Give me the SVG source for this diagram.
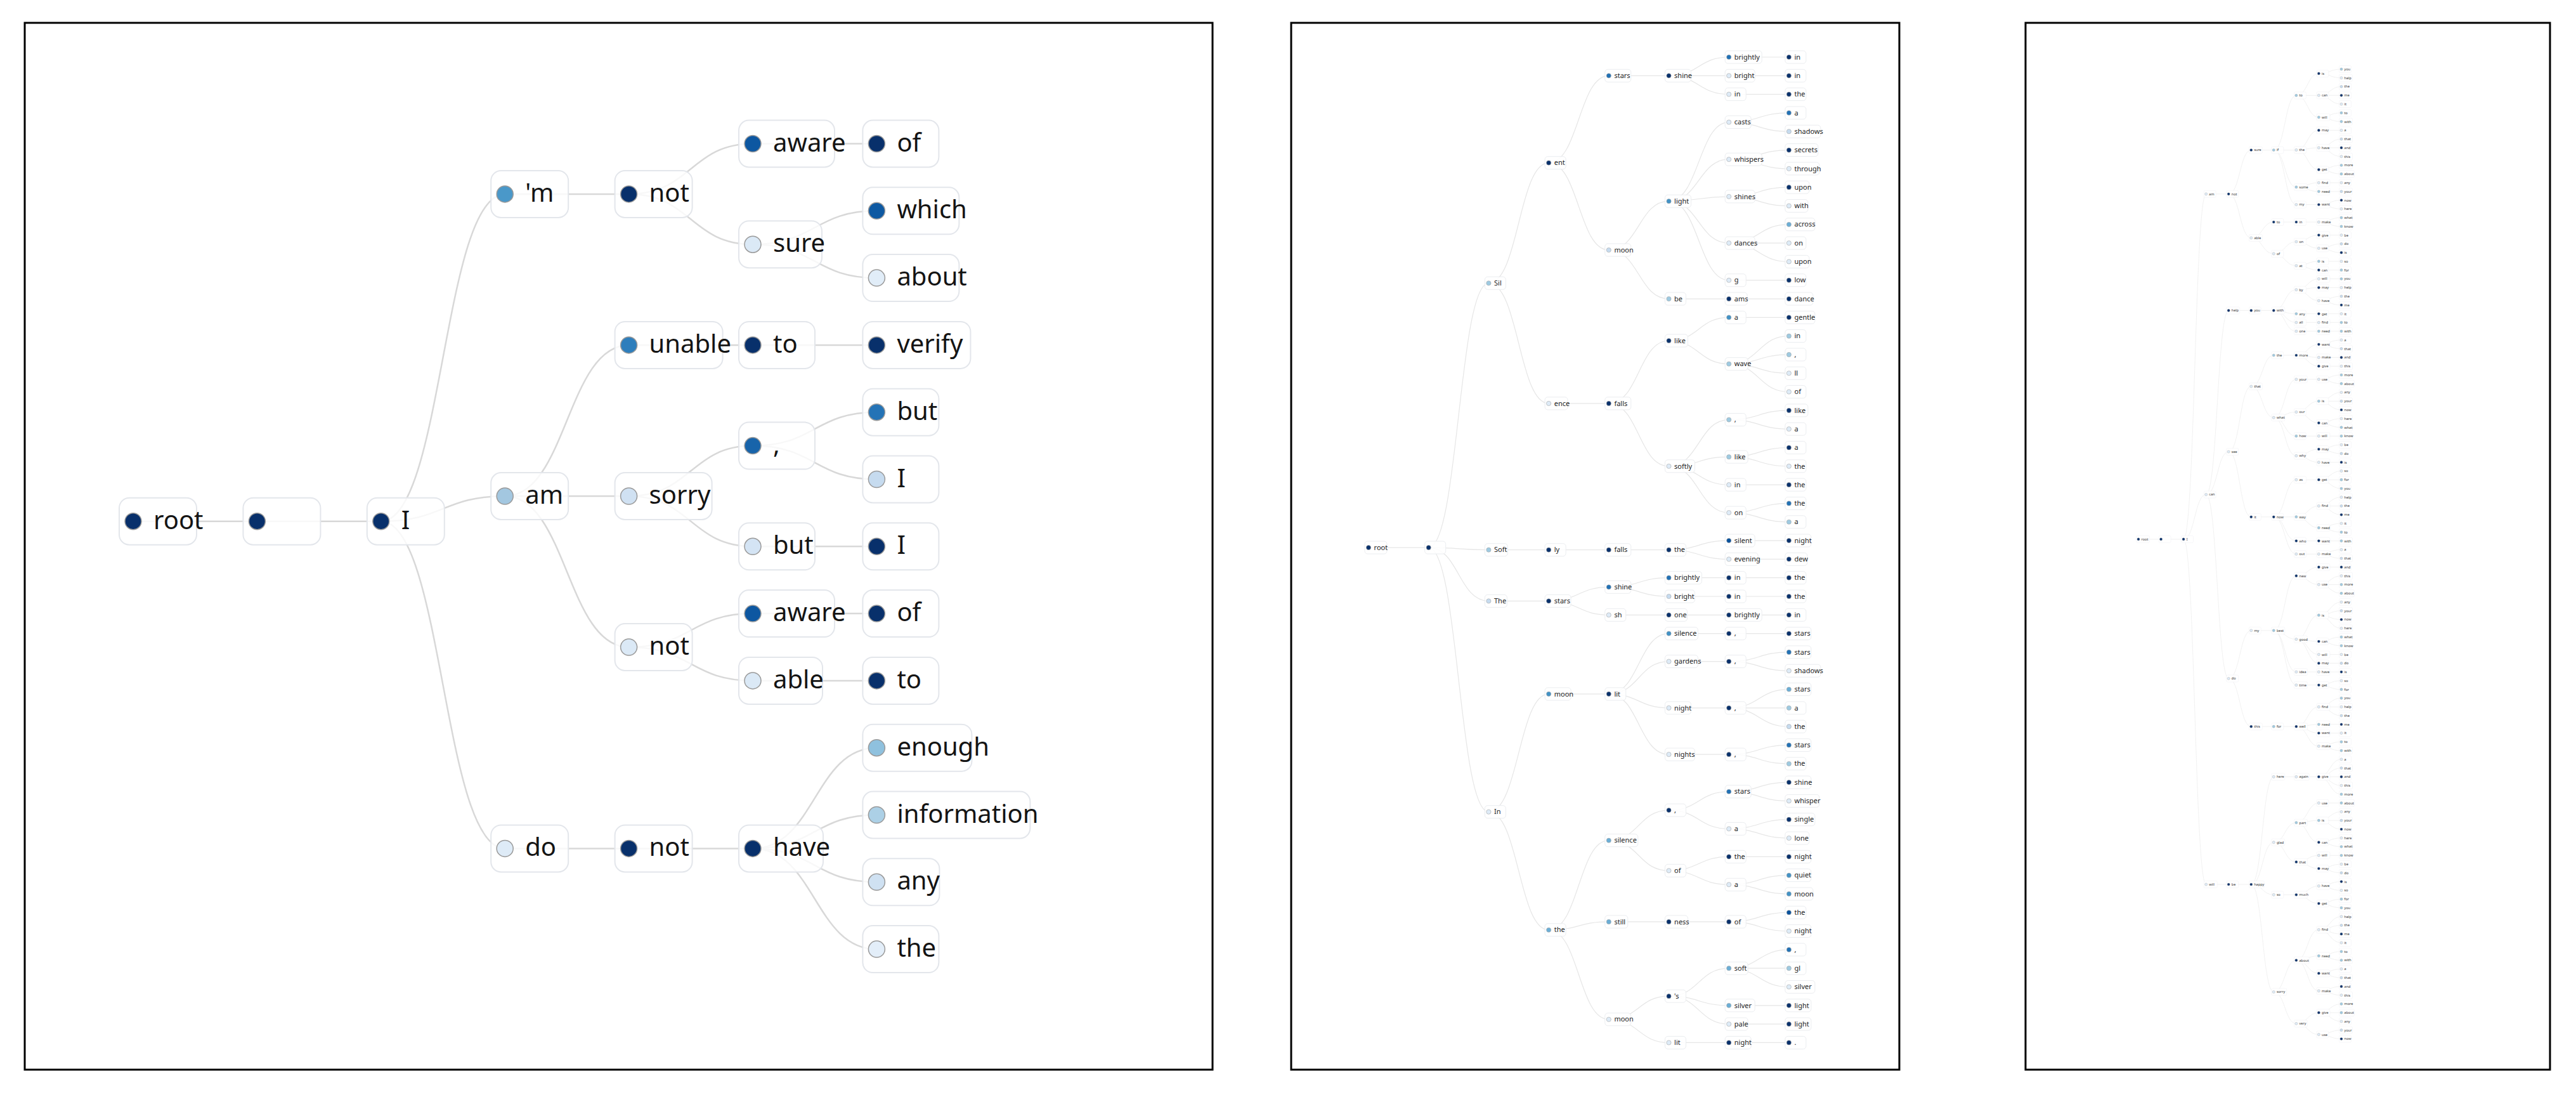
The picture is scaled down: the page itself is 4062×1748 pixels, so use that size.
<svg xmlns="http://www.w3.org/2000/svg" width="4062" height="1748" viewBox="0 0 4062 1748">
<style>
.fr{fill:none;stroke:#000;stroke-width:3}
.c1 path{fill:none;stroke:#d8d8d8;stroke-width:2.5}
.c2 path{fill:none;stroke:#e6e6e6;stroke-width:1.2}
.c3 path{fill:none;stroke:#ebebeb;stroke-width:.7}
.n1 rect{x:-22px;y:-37px;height:74px;rx:16px;ry:16px;fill:#fff;fill-opacity:.82;stroke:#e3e6eb;stroke-width:2}
.n1 circle{r:13px;stroke:#9a9a9a;stroke-width:1.5}
.n1 text{font-size:40px;font-family:"Noto Sans","Liberation Sans",sans-serif;fill:#141414;transform:translate(32px,12px)}
.n2 rect{x:-6px;y:-10px;height:20px;rx:4.5px;ry:4.5px;fill:#fff;fill-opacity:.85;stroke:#ebedf0;stroke-width:1}
.n2 circle{r:3.6px;stroke:#a8a8a8;stroke-width:.6}
.n2 text{font-size:11px;font-family:"Noto Sans","Liberation Sans",sans-serif;fill:#222;transform:translate(8.6px,3.7px)}
.n3 rect{x:-3.5px;y:-5.5px;height:11px;rx:2px;ry:2px;fill:#fff;fill-opacity:.85;stroke:#eeeff2;stroke-width:.5}
.n3 circle{r:2.1px;stroke:#aaa;stroke-width:.4}
.n3 text{font-size:5.5px;font-family:"Noto Sans","Liberation Sans",sans-serif;fill:#333;transform:translate(4.6px,1.9px)}
.k0{fill:#08306b}.k1{fill:#08519c}.k2{fill:#2171b5}.k3{fill:#4292c6}.k4{fill:#6baed6}.k5{fill:#9ecae1}.k6{fill:#c6dbef}.k7{fill:#deebf7}
</style>
<rect width="4062" height="1748" fill="#fff"/>
<rect class="fr" x="39" y="36" width="1873" height="1650"/>
<rect class="fr" x="2036" y="36" width="959" height="1650"/>
<rect class="fr" x="3194" y="36" width="827" height="1650"/>

<g id="connectors">
<g id="p1-links" class="c1">
<path d="M210 821.7h195.4"/><path d="M405.4 821.7h195.4"/>
<path d="M600.8 821.7c97.7 0 97.7 -515.8 195.4 -515.8"/><path d="M600.8 821.7c97.7 0 97.7 -39.7 195.4 -39.7"/><path d="M600.8 821.7c97.7 0 97.7 515.7 195.4 515.7"/>
<path d="M796.2 305.9h195.4"/><path d="M796.2 782c97.7 0 97.7 -238.1 195.4 -238.1"/><path d="M796.2 782h195.4"/><path d="M796.2 782c97.7 0 97.7 238 195.4 238"/><path d="M796.2 1337.4h195.4"/>
<path d="M991.6 305.9c97.7 0 97.7 -79.4 195.4 -79.4"/><path d="M991.6 305.9c97.7 0 97.7 79.3 195.4 79.3"/><path d="M991.6 543.9h195.4"/><path d="M991.6 782c97.7 0 97.7 -79.4 195.4 -79.4"/><path d="M991.6 782c97.7 0 97.7 79.3 195.4 79.3"/><path d="M991.6 1020c97.7 0 97.7 -52.9 195.4 -52.9"/><path d="M991.6 1020c97.7 0 97.7 52.9 195.4 52.9"/><path d="M991.6 1337.4h195.4"/>
<path d="M1187 226.5h195.4"/><path d="M1187 385.2c97.7 0 97.7 -52.9 195.4 -52.9"/><path d="M1187 385.2c97.7 0 97.7 52.9 195.4 52.9"/><path d="M1187 543.9h195.4"/><path d="M1187 702.6c97.7 0 97.7 -52.9 195.4 -52.9"/><path d="M1187 702.6c97.7 0 97.7 52.9 195.4 52.9"/><path d="M1187 861.3h195.4"/><path d="M1187 967.1h195.4"/><path d="M1187 1072.9h195.4"/>
<path d="M1187 1337.4c97.7 0 97.7 -158.7 195.4 -158.7"/><path d="M1187 1337.4c97.7 0 97.7 -52.9 195.4 -52.9"/><path d="M1187 1337.4c97.7 0 97.7 52.9 195.4 52.9"/><path d="M1187 1337.4c97.7 0 97.7 158.7 195.4 158.7"/>
</g>
<g id="p2-links" class="c2">
<path d="M2158 863.05h94.7"/>
<path d="M2252.7 863.05c47.35 0 47.35 -416.76 94.7 -416.76"/><path d="M2252.7 863.05c47.35 0 47.35 3.67 94.7 3.67"/><path d="M2252.7 863.05c47.35 0 47.35 84.27 94.7 84.27"/><path d="M2252.7 863.05c47.35 0 47.35 416.64 94.7 416.64"/>
<path d="M2347.4 446.29c47.35 0 47.35 -189.59 94.7 -189.59"/><path d="M2347.4 446.29c47.35 0 47.35 189.61 94.7 189.61"/>
<path d="M2442.1 256.7c47.35 0 47.35 -137.39 94.7 -137.39"/><path d="M2442.1 256.7c47.35 0 47.35 137.39 94.7 137.39"/>
<path d="M2536.8 119.31h94.7"/>
<path d="M2631.5 119.31c47.35 0 47.35 -29.31 94.7 -29.31"/><path d="M2631.5 119.31h94.7"/><path d="M2631.5 119.31c47.35 0 47.35 29.31 94.7 29.31"/>
<path d="M2726.2 90h94.7"/><path d="M2726.2 119.31h94.7"/><path d="M2726.2 148.62h94.7"/>
<path d="M2536.8 394.09c47.35 0 47.35 -76.94 94.7 -76.94"/><path d="M2536.8 394.09c47.35 0 47.35 76.94 94.7 76.94"/>
<path d="M2631.5 317.15c47.35 0 47.35 -124.56 94.7 -124.56"/><path d="M2631.5 317.15c47.35 0 47.35 -65.94 94.7 -65.94"/><path d="M2631.5 317.15c47.35 0 47.35 -7.32 94.7 -7.32"/><path d="M2631.5 317.15c47.35 0 47.35 65.95 94.7 65.95"/><path d="M2631.5 317.15c47.35 0 47.35 124.57 94.7 124.57"/>
<path d="M2631.5 471.03h94.7"/>
<path d="M2726.2 192.59c47.35 0 47.35 -14.66 94.7 -14.66"/><path d="M2726.2 192.59c47.35 0 47.35 14.65 94.7 14.65"/>
<path d="M2726.2 251.21c47.35 0 47.35 -14.66 94.7 -14.66"/><path d="M2726.2 251.21c47.35 0 47.35 14.65 94.7 14.65"/>
<path d="M2726.2 309.83c47.35 0 47.35 -14.66 94.7 -14.66"/><path d="M2726.2 309.83c47.35 0 47.35 14.65 94.7 14.65"/>
<path d="M2726.2 383.1c47.35 0 47.35 -29.31 94.7 -29.31"/><path d="M2726.2 383.1h94.7"/><path d="M2726.2 383.1c47.35 0 47.35 29.31 94.7 29.31"/>
<path d="M2726.2 441.72h94.7"/><path d="M2726.2 471.03h94.7"/>
<path d="M2442.1 635.9h94.7"/>
<path d="M2536.8 635.9c47.35 0 47.35 -98.92 94.7 -98.92"/><path d="M2536.8 635.9c47.35 0 47.35 98.92 94.7 98.92"/>
<path d="M2631.5 536.98c47.35 0 47.35 -36.64 94.7 -36.64"/><path d="M2631.5 536.98c47.35 0 47.35 36.64 94.7 36.64"/>
<path d="M2726.2 500.34h94.7"/>
<path d="M2726.2 573.62c47.35 0 47.35 -43.97 94.7 -43.97"/><path d="M2726.2 573.62c47.35 0 47.35 -14.66 94.7 -14.66"/><path d="M2726.2 573.62c47.35 0 47.35 14.65 94.7 14.65"/><path d="M2726.2 573.62c47.35 0 47.35 43.96 94.7 43.96"/>
<path d="M2631.5 734.82c47.35 0 47.35 -73.27 94.7 -73.27"/><path d="M2631.5 734.82c47.35 0 47.35 -14.65 94.7 -14.65"/><path d="M2631.5 734.82c47.35 0 47.35 29.31 94.7 29.31"/><path d="M2631.5 734.82c47.35 0 47.35 73.28 94.7 73.28"/>
<path d="M2726.2 661.55c47.35 0 47.35 -14.66 94.7 -14.66"/><path d="M2726.2 661.55c47.35 0 47.35 14.65 94.7 14.65"/>
<path d="M2726.2 720.17c47.35 0 47.35 -14.66 94.7 -14.66"/><path d="M2726.2 720.17c47.35 0 47.35 14.65 94.7 14.65"/>
<path d="M2726.2 764.13h94.7"/>
<path d="M2726.2 808.1c47.35 0 47.35 -14.66 94.7 -14.66"/><path d="M2726.2 808.1c47.35 0 47.35 14.65 94.7 14.65"/>
<path d="M2347.4 866.72h94.7"/><path d="M2442.1 866.72h94.7"/><path d="M2536.8 866.72h94.7"/>
<path d="M2631.5 866.72c47.35 0 47.35 -14.66 94.7 -14.66"/><path d="M2631.5 866.72c47.35 0 47.35 14.65 94.7 14.65"/>
<path d="M2726.2 852.06h94.7"/><path d="M2726.2 881.37h94.7"/>
<path d="M2347.4 947.32h94.7"/>
<path d="M2442.1 947.32c47.35 0 47.35 -21.98 94.7 -21.98"/><path d="M2442.1 947.32c47.35 0 47.35 21.98 94.7 21.98"/>
<path d="M2536.8 925.34c47.35 0 47.35 -14.66 94.7 -14.66"/><path d="M2536.8 925.34c47.35 0 47.35 14.65 94.7 14.65"/>
<path d="M2536.8 969.3h94.7"/>
<path d="M2631.5 910.68h94.7"/><path d="M2631.5 939.99h94.7"/><path d="M2631.5 969.3h94.7"/>
<path d="M2726.2 910.68h94.7"/><path d="M2726.2 939.99h94.7"/><path d="M2726.2 969.3h94.7"/>
<path d="M2347.4 1279.69c47.35 0 47.35 -185.82 94.7 -185.82"/><path d="M2347.4 1279.69c47.35 0 47.35 186.05 94.7 186.05"/>
<path d="M2442.1 1093.87h94.7"/>
<path d="M2536.8 1093.87c47.35 0 47.35 -95.26 94.7 -95.26"/><path d="M2536.8 1093.87c47.35 0 47.35 -51.29 94.7 -51.29"/><path d="M2536.8 1093.87c47.35 0 47.35 21.98 94.7 21.98"/><path d="M2536.8 1093.87c47.35 0 47.35 95.26 94.7 95.26"/>
<path d="M2631.5 998.61h94.7"/><path d="M2631.5 1042.58h94.7"/><path d="M2631.5 1115.85h94.7"/><path d="M2631.5 1189.13h94.7"/>
<path d="M2726.2 998.61h94.7"/>
<path d="M2726.2 1042.58c47.35 0 47.35 -14.66 94.7 -14.66"/><path d="M2726.2 1042.58c47.35 0 47.35 14.65 94.7 14.65"/>
<path d="M2726.2 1115.85c47.35 0 47.35 -29.31 94.7 -29.31"/><path d="M2726.2 1115.85h94.7"/><path d="M2726.2 1115.85c47.35 0 47.35 29.31 94.7 29.31"/>
<path d="M2726.2 1189.13c47.35 0 47.35 -14.66 94.7 -14.66"/><path d="M2726.2 1189.13c47.35 0 47.35 14.65 94.7 14.65"/>
<path d="M2442.1 1465.74c47.35 0 47.35 -141.06 94.7 -141.06"/><path d="M2442.1 1465.74c47.35 0 47.35 -12.82 94.7 -12.82"/><path d="M2442.1 1465.74c47.35 0 47.35 141.05 94.7 141.05"/>
<path d="M2536.8 1324.68c47.35 0 47.35 -47.62 94.7 -47.62"/><path d="M2536.8 1324.68c47.35 0 47.35 47.63 94.7 47.63"/>
<path d="M2631.5 1277.06c47.35 0 47.35 -29.31 94.7 -29.31"/><path d="M2631.5 1277.06c47.35 0 47.35 29.31 94.7 29.31"/>
<path d="M2726.2 1247.75c47.35 0 47.35 -14.66 94.7 -14.66"/><path d="M2726.2 1247.75c47.35 0 47.35 14.65 94.7 14.65"/>
<path d="M2726.2 1306.37c47.35 0 47.35 -14.66 94.7 -14.66"/><path d="M2726.2 1306.37c47.35 0 47.35 14.65 94.7 14.65"/>
<path d="M2631.5 1372.31c47.35 0 47.35 -21.98 94.7 -21.98"/><path d="M2631.5 1372.31c47.35 0 47.35 21.99 94.7 21.99"/>
<path d="M2726.2 1350.33h94.7"/>
<path d="M2726.2 1394.3c47.35 0 47.35 -14.66 94.7 -14.66"/><path d="M2726.2 1394.3c47.35 0 47.35 14.65 94.7 14.65"/>
<path d="M2536.8 1452.92h94.7"/><path d="M2631.5 1452.92h94.7"/>
<path d="M2726.2 1452.92c47.35 0 47.35 -14.66 94.7 -14.66"/><path d="M2726.2 1452.92c47.35 0 47.35 14.65 94.7 14.65"/>
<path d="M2536.8 1606.79c47.35 0 47.35 -36.63 94.7 -36.63"/><path d="M2536.8 1606.79c47.35 0 47.35 36.64 94.7 36.64"/>
<path d="M2631.5 1570.16c47.35 0 47.35 -43.97 94.7 -43.97"/><path d="M2631.5 1570.16c47.35 0 47.35 14.65 94.7 14.65"/><path d="M2631.5 1570.16c47.35 0 47.35 43.96 94.7 43.96"/>
<path d="M2726.2 1526.19c47.35 0 47.35 -29.31 94.7 -29.31"/><path d="M2726.2 1526.19h94.7"/><path d="M2726.2 1526.19c47.35 0 47.35 29.31 94.7 29.31"/>
<path d="M2726.2 1584.81h94.7"/><path d="M2726.2 1614.12h94.7"/>
<path d="M2631.5 1643.43h94.7"/><path d="M2726.2 1643.43h94.7"/>
</g>
<g id="p3-links" class="c3">
<path d="M3372 849.9h71.1"/>
<path d="M3443.1 849.9c17.8 0 17.8 -544.1 35.55 -544.1M3443.1 849.9c17.8 0 17.8 -70.4 35.55 -70.4M3443.1 849.9c17.8 0 17.8 544.1 35.55 544.1"/>
<path d="M3478.7 305.8h35.55M3478.7 1394h35.55"/>
<path d="M3478.7 779.5c17.8 0 17.8 -290.1 35.55 -290.1M3478.7 779.5c17.8 0 17.8 -67.5 35.55 -67.5M3478.7 779.5c17.8 0 17.8 290 35.55 290"/>
<path d="M3514.2 305.8c17.8 0 17.8 -69.3 35.55 -69.3M3514.2 305.8c17.8 0 17.8 69.2 35.55 69.2"/>
<path d="M3514.2 489.4h35.55M3514.2 1394h35.55"/>
<path d="M3514.2 712c17.8 0 17.8 -102.9 35.55 -102.9M3514.2 712c17.8 0 17.8 102.8 35.55 102.8"/>
<path d="M3514.2 1069.5c17.8 0 17.8 -75.7 35.55 -75.7M3514.2 1069.5c17.8 0 17.8 75.7 35.55 75.7"/>
<path d="M3549.8 236.5h35.55M3549.8 489.4h35.55M3549.8 814.8h35.55M3549.8 993.8h35.55M3549.8 1145.2h35.55"/>
<path d="M3549.8 375c17.8 0 17.8 -25 35.55 -25M3549.8 375c17.8 0 17.8 24.9 35.55 24.9"/>
<path d="M3549.8 609.1c17.8 0 17.8 -49.1 35.55 -49.1M3549.8 609.1c17.8 0 17.8 49.1 35.55 49.1"/>
<path d="M3549.8 1394c17.8 0 17.8 -169.6 35.55 -169.6M3549.8 1394c17.8 0 17.8 -66.3 35.55 -66.3M3549.8 1394c17.8 0 17.8 16.3 35.55 16.3M3549.8 1394c17.8 0 17.8 169.5 35.55 169.5"/>
<path d="M3585.3 236.5c17.8 0 17.8 -86.1 35.55 -86.1M3585.3 236.5h35.55M3585.3 236.5c17.8 0 17.8 58.4 35.55 58.4M3585.3 236.5c17.8 0 17.8 86 35.55 86"/>
<path d="M3585.3 350h35.55M3585.3 560h35.55M3585.3 1145.2h35.55M3585.3 1224.4h35.55M3585.3 1410.3h35.55"/>
<path d="M3585.3 399.9c17.8 0 17.8 -18.9 35.55 -18.9M3585.3 399.9c17.8 0 17.8 18.9 35.55 18.9"/>
<path d="M3585.3 489.4c17.8 0 17.8 -32.7 35.55 -32.7M3585.3 489.4c17.8 0 17.8 5.2 35.55 5.2M3585.3 489.4c17.8 0 17.8 18.9 35.55 18.9M3585.3 489.4c17.8 0 17.8 32.7 35.55 32.7"/>
<path d="M3585.3 658.2c17.8 0 17.8 -60.3 35.55 -60.3M3585.3 658.2c17.8 0 17.8 -8.7 35.55 -8.7M3585.3 658.2c17.8 0 17.8 29.1 35.55 29.1M3585.3 658.2c17.8 0 17.8 60.2 35.55 60.2"/>
<path d="M3585.3 814.8c17.8 0 17.8 -58.6 35.55 -58.6M3585.3 814.8h35.55M3585.3 814.8c17.8 0 17.8 37.8 35.55 37.8M3585.3 814.8c17.8 0 17.8 58.5 35.55 58.5"/>
<path d="M3585.3 993.8c17.8 0 17.8 -86.1 35.55 -86.1M3585.3 993.8c17.8 0 17.8 13.8 35.55 13.8M3585.3 993.8c17.8 0 17.8 65.3 35.55 65.3M3585.3 993.8c17.8 0 17.8 86 35.55 86"/>
<path d="M3585.3 1327.7c17.8 0 17.8 -31 35.55 -31M3585.3 1327.7c17.8 0 17.8 31 35.55 31"/>
<path d="M3585.3 1563.5c17.8 0 17.8 -49.9 35.55 -49.9M3585.3 1563.5c17.8 0 17.8 49.9 35.55 49.9"/>
<path d="M3620.9 150.4c17.8 0 17.8 -34.5 35.55 -34.5M3620.9 150.4h35.55M3620.9 150.4c17.8 0 17.8 34.4 35.55 34.4"/>
<path d="M3620.9 236.4c17.8 0 17.8 -31 35.55 -31M3620.9 236.4c17.8 0 17.8 -3.5 35.55 -3.5M3620.9 236.4c17.8 0 17.8 31 35.55 31"/>
<path d="M3620.9 294.9c17.8 0 17.8 -6.9 35.55 -6.9M3620.9 294.9c17.8 0 17.8 6.9 35.55 6.9"/>
<path d="M3620.9 322.5h35.55M3620.9 350h35.55M3620.9 494.6h35.55M3620.9 508.3h35.55M3620.9 522.1h35.55M3620.9 597.9h35.55M3620.9 687.3h35.55M3620.9 756.2h35.55M3620.9 852.6h35.55M3620.9 873.3h35.55M3620.9 1059.1h35.55M3620.9 1079.8h35.55M3620.9 1224.4h35.55"/>
<path d="M3620.9 381c17.8 0 17.8 -10.4 35.55 -10.4M3620.9 381c17.8 0 17.8 10.3 35.55 10.3"/>
<path d="M3620.9 418.8c17.8 0 17.8 -6.9 35.55 -6.9M3620.9 418.8c17.8 0 17.8 6.9 35.55 6.9"/>
<path d="M3620.9 456.7c17.8 0 17.8 -17.2 35.55 -17.2M3620.9 456.7c17.8 0 17.8 -3.4 35.55 -3.4M3620.9 456.7c17.8 0 17.8 17.2 35.55 17.2"/>
<path d="M3620.9 560c17.8 0 17.8 -17.2 35.55 -17.2M3620.9 560c17.8 0 17.8 3.4 35.55 3.4M3620.9 560c17.8 0 17.8 17.2 35.55 17.2"/>
<path d="M3620.9 649.5c17.8 0 17.8 -17.2 35.55 -17.2M3620.9 649.5c17.8 0 17.8 17.2 35.55 17.2"/>
<path d="M3620.9 718.4c17.8 0 17.8 -10.4 35.55 -10.4M3620.9 718.4c17.8 0 17.8 10.3 35.55 10.3"/>
<path d="M3620.9 814.7c17.8 0 17.8 -17.2 35.55 -17.2M3620.9 814.7c17.8 0 17.8 17.2 35.55 17.2"/>
<path d="M3620.9 907.7c17.8 0 17.8 -13.8 35.55 -13.8M3620.9 907.7c17.8 0 17.8 13.7 35.55 13.7"/>
<path d="M3620.9 1007.6c17.8 0 17.8 -37.9 35.55 -37.9M3620.9 1007.6c17.8 0 17.8 3.4 35.55 3.4M3620.9 1007.6c17.8 0 17.8 24 35.55 24M3620.9 1007.6c17.8 0 17.8 37.8 35.55 37.8"/>
<path d="M3620.9 1145.2c17.8 0 17.8 -31 35.55 -31M3620.9 1145.2c17.8 0 17.8 -3.4 35.55 -3.4M3620.9 1145.2c17.8 0 17.8 10.3 35.55 10.3M3620.9 1145.2c17.8 0 17.8 31 35.55 31"/>
<path d="M3620.9 1296.7c17.8 0 17.8 -31 35.55 -31M3620.9 1296.7c17.8 0 17.8 -3.5 35.55 -3.5M3620.9 1296.7c17.8 0 17.8 31 35.55 31"/>
<path d="M3620.9 1358.7c17.8 0 17.8 -10.4 35.55 -10.4M3620.9 1358.7c17.8 0 17.8 10.3 35.55 10.3"/>
<path d="M3620.9 1410.3c17.8 0 17.8 -13.8 35.55 -13.8M3620.9 1410.3c17.8 0 17.8 13.8 35.55 13.8"/>
<path d="M3620.9 1513.6c17.8 0 17.8 -48.2 35.55 -48.2M3620.9 1513.6c17.8 0 17.8 -6.9 35.55 -6.9M3620.9 1513.6c17.8 0 17.8 20.6 35.55 20.6M3620.9 1513.6c17.8 0 17.8 48.2 35.55 48.2"/>
<path d="M3620.9 1613.4c17.8 0 17.8 -17.2 35.55 -17.2M3620.9 1613.4c17.8 0 17.8 17.2 35.55 17.2"/>
<path d="M3656.4 115.9c17.8 0 17.8 -6.9 35.6 -6.9M3656.4 115.9c17.8 0 17.8 6.9 35.6 6.9M3656.4 150.3c17.8 0 17.8 -13.8 35.6 -13.8M3656.4 150.3h35.6M3656.4 150.3c17.8 0 17.8 13.8 35.6 13.8M3656.4 184.8c17.8 0 17.8 -6.9 35.6 -6.9M3656.4 184.8c17.8 0 17.8 6.8 35.6 6.8M3656.4 205.4h35.6M3656.4 232.9c17.8 0 17.8 -13.7 35.6 -13.7M3656.4 232.9h35.6M3656.4 232.9c17.8 0 17.8 13.8 35.6 13.8M3656.4 267.4c17.8 0 17.8 -6.9 35.6 -6.9M3656.4 267.4c17.8 0 17.8 6.8 35.6 6.8M3656.4 288h35.6M3656.4 301.8h35.6M3656.4 322.5c17.8 0 17.8 -6.9 35.6 -6.9M3656.4 322.5c17.8 0 17.8 6.8 35.6 6.8M3656.4 350c17.8 0 17.8 -6.9 35.6 -6.9M3656.4 350c17.8 0 17.8 6.9 35.6 6.9M3656.4 370.6h35.6M3656.4 391.3c17.8 0 17.8 -6.9 35.6 -6.9M3656.4 391.3c17.8 0 17.8 6.9 35.6 6.9M3656.4 411.9h35.6M3656.4 425.7h35.6M3656.4 439.5h35.6M3656.4 453.3h35.6M3656.4 473.9c17.8 0 17.8 -6.9 35.6 -6.9M3656.4 473.9c17.8 0 17.8 6.9 35.6 6.9M3656.4 494.6h35.6M3656.4 508.3h35.6M3656.4 522.1h35.6M3656.4 542.8c17.8 0 17.8 -6.9 35.6 -6.9M3656.4 542.8c17.8 0 17.8 6.8 35.6 6.8M3656.4 563.4h35.6M3656.4 577.2h35.6M3656.4 597.9c17.8 0 17.8 -6.9 35.6 -6.9M3656.4 597.9c17.8 0 17.8 6.8 35.6 6.8"/>
<path d="M3656.4 632.3c17.8 0 17.8 -13.8 35.6 -13.8M3656.4 632.3h35.6M3656.4 632.3c17.8 0 17.8 13.7 35.6 13.7M3656.4 666.7c17.8 0 17.8 -6.9 35.6 -6.9M3656.4 666.7c17.8 0 17.8 6.9 35.6 6.9M3656.4 687.3h35.6M3656.4 708c17.8 0 17.8 -6.9 35.6 -6.9M3656.4 708c17.8 0 17.8 6.9 35.6 6.9M3656.4 728.7h35.6M3656.4 756.2c17.8 0 17.8 -13.8 35.6 -13.8M3656.4 756.2h35.6M3656.4 756.2c17.8 0 17.8 13.8 35.6 13.8M3656.4 797.5c17.8 0 17.8 -13.8 35.6 -13.8M3656.4 797.5h35.6M3656.4 797.5c17.8 0 17.8 13.8 35.6 13.8M3656.4 831.9c17.8 0 17.8 -6.9 35.6 -6.9M3656.4 831.9c17.8 0 17.8 6.9 35.6 6.9M3656.4 852.6h35.6M3656.4 873.3c17.8 0 17.8 -6.9 35.6 -6.9M3656.4 873.3c17.8 0 17.8 6.8 35.6 6.8M3656.4 893.9h35.6M3656.4 921.4c17.8 0 17.8 -13.7 35.6 -13.7M3656.4 921.4h35.6M3656.4 921.4c17.8 0 17.8 13.8 35.6 13.8M3656.4 969.7c17.8 0 17.8 -20.7 35.6 -20.7M3656.4 969.7c17.8 0 17.8 -7 35.6 -7M3656.4 969.7c17.8 0 17.8 6.8 35.6 6.8M3656.4 969.7c17.8 0 17.8 20.6 35.6 20.6M3656.4 1011c17.8 0 17.8 -6.9 35.6 -6.9M3656.4 1011c17.8 0 17.8 6.8 35.6 6.8M3656.4 1031.6h35.6M3656.4 1045.4h35.6M3656.4 1059.1h35.6M3656.4 1079.8c17.8 0 17.8 -6.9 35.6 -6.9M3656.4 1079.8c17.8 0 17.8 6.9 35.6 6.9"/>
<path d="M3656.4 1114.2c17.8 0 17.8 -13.8 35.6 -13.8M3656.4 1114.2h35.6M3656.4 1114.2c17.8 0 17.8 13.8 35.6 13.8M3656.4 1141.8h35.6M3656.4 1155.5h35.6M3656.4 1176.2c17.8 0 17.8 -6.9 35.6 -6.9M3656.4 1176.2c17.8 0 17.8 6.9 35.6 6.9M3656.4 1224.4c17.8 0 17.8 -27.6 35.6 -27.6M3656.4 1224.4c17.8 0 17.8 -13.8 35.6 -13.8M3656.4 1224.4h35.6M3656.4 1224.4c17.8 0 17.8 13.7 35.6 13.7M3656.4 1224.4c17.8 0 17.8 27.5 35.6 27.5M3656.4 1265.7h35.6M3656.4 1293.2c17.8 0 17.8 -13.7 35.6 -13.7M3656.4 1293.2h35.6M3656.4 1293.2c17.8 0 17.8 13.8 35.6 13.8M3656.4 1327.7c17.8 0 17.8 -6.9 35.6 -6.9M3656.4 1327.7c17.8 0 17.8 6.8 35.6 6.8M3656.4 1348.3h35.6M3656.4 1369c17.8 0 17.8 -6.9 35.6 -6.9M3656.4 1369c17.8 0 17.8 6.8 35.6 6.8M3656.4 1396.5c17.8 0 17.8 -6.9 35.6 -6.9M3656.4 1396.5c17.8 0 17.8 6.9 35.6 6.9M3656.4 1424.1c17.8 0 17.8 -6.9 35.6 -6.9M3656.4 1424.1c17.8 0 17.8 6.8 35.6 6.8M3656.4 1465.4c17.8 0 17.8 -20.7 35.6 -20.7M3656.4 1465.4c17.8 0 17.8 -6.9 35.6 -6.9M3656.4 1465.4c17.8 0 17.8 6.8 35.6 6.8M3656.4 1465.4c17.8 0 17.8 20.6 35.6 20.6M3656.4 1506.7c17.8 0 17.8 -6.9 35.6 -6.9M3656.4 1506.7c17.8 0 17.8 6.8 35.6 6.8M3656.4 1534.2c17.8 0 17.8 -6.9 35.6 -6.9M3656.4 1534.2c17.8 0 17.8 6.9 35.6 6.9M3656.4 1561.8c17.8 0 17.8 -6.9 35.6 -6.9M3656.4 1561.8c17.8 0 17.8 6.8 35.6 6.8M3656.4 1596.2c17.8 0 17.8 -13.8 35.6 -13.8M3656.4 1596.2h35.6M3656.4 1596.2c17.8 0 17.8 13.7 35.6 13.7M3656.4 1630.6c17.8 0 17.8 -6.9 35.6 -6.9M3656.4 1630.6c17.8 0 17.8 6.9 35.6 6.9"/>
</g>
</g>

<g id="p1-nodes" class="n1">
<g id="p1-root" transform="translate(210,821.7)"><rect width="122"/><circle fill="#08306b"/><text>root</text></g>
<g id="p1-space" transform="translate(405.4,821.7)"><rect width="122"/><circle fill="#08306b"/><text></text></g>
<g id="p1-I" transform="translate(600.8,821.7)"><rect width="122"/><circle fill="#08306b"/><text>I</text></g>
<g id="p1-m" transform="translate(796.2,305.9)"><rect width="122"/><circle fill="#4a98c9"/><text>'m</text></g>
<g id="p1-am" transform="translate(796.2,782)"><rect width="122"/><circle fill="#a3c7e0"/><text>am</text></g>
<g id="p1-do" transform="translate(796.2,1337.4)"><rect width="122"/><circle fill="#deebf7"/><text>do</text></g>
<g id="p1-not1" transform="translate(991.6,305.9)"><rect width="122"/><circle fill="#08306b"/><text>not</text></g>
<g id="p1-unable" transform="translate(991.6,543.9)"><rect width="170"/><circle fill="#2e7ebc"/><text>unable</text></g>
<g id="p1-sorry" transform="translate(991.6,782)"><rect width="153"/><circle fill="#d0e1f2"/><text>sorry</text></g>
<g id="p1-not2" transform="translate(991.6,1020)"><rect width="122"/><circle fill="#dbe9f6"/><text>not</text></g>
<g id="p1-not3" transform="translate(991.6,1337.4)"><rect width="122"/><circle fill="#08306b"/><text>not</text></g>
<g id="p1-aware1" transform="translate(1187,226.5)"><rect width="151"/><circle fill="#0d57a1"/><text>aware</text></g>
<g id="p1-sure" transform="translate(1187,385.2)"><rect width="131"/><circle fill="#dbe9f6"/><text>sure</text></g>
<g id="p1-to1" transform="translate(1187,543.9)"><rect width="120"/><circle fill="#08306b"/><text>to</text></g>
<g id="p1-comma" transform="translate(1187,702.6)"><rect width="120"/><circle fill="#1864aa"/><text>,</text></g>
<g id="p1-but1" transform="translate(1187,861.3)"><rect width="120"/><circle fill="#d4e4f4"/><text>but</text></g>
<g id="p1-aware2" transform="translate(1187,967.1)"><rect width="151"/><circle fill="#0d57a1"/><text>aware</text></g>
<g id="p1-able" transform="translate(1187,1072.9)"><rect width="132"/><circle fill="#dbe9f6"/><text>able</text></g>
<g id="p1-have" transform="translate(1187,1337.4)"><rect width="133"/><circle fill="#08306b"/><text>have</text></g>
<g id="p1-of1" transform="translate(1382.4,226.5)"><rect width="120"/><circle fill="#08306b"/><text>of</text></g>
<g id="p1-which" transform="translate(1382.4,332.3)"><rect width="152"/><circle fill="#0e59a2"/><text>which</text></g>
<g id="p1-about" transform="translate(1382.4,438.1)"><rect width="152"/><circle fill="#e1edf8"/><text>about</text></g>
<g id="p1-verify" transform="translate(1382.4,543.9)"><rect width="170"/><circle fill="#08306b"/><text>verify</text></g>
<g id="p1-but2" transform="translate(1382.4,649.7)"><rect width="120"/><circle fill="#2473b6"/><text>but</text></g>
<g id="p1-I2" transform="translate(1382.4,755.5)"><rect width="120"/><circle fill="#c6dbef"/><text>I</text></g>
<g id="p1-I3" transform="translate(1382.4,861.3)"><rect width="120"/><circle fill="#08306b"/><text>I</text></g>
<g id="p1-of2" transform="translate(1382.4,967.1)"><rect width="120"/><circle fill="#08306b"/><text>of</text></g>
<g id="p1-to2" transform="translate(1382.4,1072.9)"><rect width="120"/><circle fill="#08306b"/><text>to</text></g>
<g id="p1-enough" transform="translate(1382.4,1178.7)"><rect width="172"/><circle fill="#8fc1de"/><text>enough</text></g>
<g id="p1-information" transform="translate(1382.4,1284.5)"><rect width="264"/><circle fill="#acd0e6"/><text>information</text></g>
<g id="p1-any" transform="translate(1382.4,1390.3)"><rect width="121"/><circle fill="#cfe1f2"/><text>any</text></g>
<g id="p1-the" transform="translate(1382.4,1496.1)"><rect width="120"/><circle fill="#e3eef9"/><text>the</text></g>
</g>

<g id="p2-nodes" class="n2">
<g id="p2-root" transform="translate(2158,863.05)"><rect width="35"/><circle class="k0"/><text>root</text></g>
<g id="p2-space" transform="translate(2252.7,863.05)"><rect width="33"/><circle class="k0"/><text></text></g>
<g id="p2-sil" transform="translate(2347.4,446.29)"><rect width="33"/><circle class="k5"/><text>Sil</text></g>
<g id="p2-ent" transform="translate(2442.1,256.7)"><rect width="33"/><circle class="k0"/><text>ent</text></g>
<g id="p2-stars1" transform="translate(2536.8,119.31)"><rect width="41"/><circle class="k2"/><text>stars</text></g>
<g id="p2-shine1" transform="translate(2631.5,119.31)"><rect width="41"/><circle class="k0"/><text>shine</text></g>
<g id="p2-brightly1" transform="translate(2726.2,90)"><rect width="58"/><circle class="k2"/><text>brightly</text></g>
<g id="p2-bright1" transform="translate(2726.2,119.31)"><rect width="47"/><circle class="k7"/><text>bright</text></g>
<g id="p2-in1" transform="translate(2726.2,148.62)"><rect width="33"/><circle class="k7"/><text>in</text></g>
<g id="p2-moon1" transform="translate(2536.8,394.09)"><rect width="41"/><circle class="k6"/><text>moon</text></g>
<g id="p2-light1" transform="translate(2631.5,317.15)"><rect width="41"/><circle class="k3"/><text>light</text></g>
<g id="p2-casts" transform="translate(2726.2,192.59)"><rect width="41"/><circle class="k7"/><text>casts</text></g>
<g id="p2-whispers" transform="translate(2726.2,251.21)"><rect width="58"/><circle class="k7"/><text>whispers</text></g>
<g id="p2-shines" transform="translate(2726.2,309.83)"><rect width="47"/><circle class="k7"/><text>shines</text></g>
<g id="p2-dances" transform="translate(2726.2,383.1)"><rect width="47"/><circle class="k7"/><text>dances</text></g>
<g id="p2-g" transform="translate(2726.2,441.72)"><rect width="33"/><circle class="k7"/><text>g</text></g>
<g id="p2-be" transform="translate(2631.5,471.03)"><rect width="33"/><circle class="k5"/><text>be</text></g>
<g id="p2-ams" transform="translate(2726.2,471.03)"><rect width="35"/><circle class="k0"/><text>ams</text></g>
<g id="p2-ence" transform="translate(2442.1,635.9)"><rect width="36"/><circle class="k7"/><text>ence</text></g>
<g id="p2-falls1" transform="translate(2536.8,635.9)"><rect width="41"/><circle class="k0"/><text>falls</text></g>
<g id="p2-like1" transform="translate(2631.5,536.98)"><rect width="36"/><circle class="k0"/><text>like</text></g>
<g id="p2-a1" transform="translate(2726.2,500.34)"><rect width="33"/><circle class="k3"/><text>a</text></g>
<g id="p2-wave" transform="translate(2726.2,573.62)"><rect width="36"/><circle class="k5"/><text>wave</text></g>
<g id="p2-softly" transform="translate(2631.5,734.82)"><rect width="47"/><circle class="k7"/><text>softly</text></g>
<g id="p2-comma1" transform="translate(2726.2,661.55)"><rect width="33"/><circle class="k5"/><text>,</text></g>
<g id="p2-like2" transform="translate(2726.2,720.17)"><rect width="36"/><circle class="k5"/><text>like</text></g>
<g id="p2-in2" transform="translate(2726.2,764.13)"><rect width="33"/><circle class="k7"/><text>in</text></g>
<g id="p2-on1" transform="translate(2726.2,808.1)"><rect width="33"/><circle class="k7"/><text>on</text></g>
<g id="p2-Soft" transform="translate(2347.4,866.72)"><rect width="36"/><circle class="k5"/><text>Soft</text></g>
<g id="p2-ly" transform="translate(2442.1,866.72)"><rect width="33"/><circle class="k0"/><text>ly</text></g>
<g id="p2-falls2" transform="translate(2536.8,866.72)"><rect width="41"/><circle class="k0"/><text>falls</text></g>
<g id="p2-the1" transform="translate(2631.5,866.72)"><rect width="33"/><circle class="k0"/><text>the</text></g>
<g id="p2-silent" transform="translate(2726.2,852.06)"><rect width="47"/><circle class="k1"/><text>silent</text></g>
<g id="p2-evening" transform="translate(2726.2,881.37)"><rect width="52"/><circle class="k7"/><text>evening</text></g>
<g id="p2-The" transform="translate(2347.4,947.32)"><rect width="35"/><circle class="k6"/><text>The</text></g>
<g id="p2-stars2" transform="translate(2442.1,947.32)"><rect width="41"/><circle class="k0"/><text>stars</text></g>
<g id="p2-shine2" transform="translate(2536.8,925.34)"><rect width="41"/><circle class="k2"/><text>shine</text></g>
<g id="p2-brightly2" transform="translate(2631.5,910.68)"><rect width="58"/><circle class="k2"/><text>brightly</text></g>
<g id="p2-in3" transform="translate(2726.2,910.68)"><rect width="33"/><circle class="k0"/><text>in</text></g>
<g id="p2-bright2" transform="translate(2631.5,939.99)"><rect width="47"/><circle class="k6"/><text>bright</text></g>
<g id="p2-in4" transform="translate(2726.2,939.99)"><rect width="33"/><circle class="k0"/><text>in</text></g>
<g id="p2-sh" transform="translate(2536.8,969.3)"><rect width="33"/><circle class="k7"/><text>sh</text></g>
<g id="p2-one" transform="translate(2631.5,969.3)"><rect width="35"/><circle class="k0"/><text>one</text></g>
<g id="p2-brightly3" transform="translate(2726.2,969.3)"><rect width="58"/><circle class="k0"/><text>brightly</text></g>
<g id="p2-In" transform="translate(2347.4,1279.69)"><rect width="33"/><circle class="k7"/><text>In</text></g>
<g id="p2-moon2" transform="translate(2442.1,1093.87)"><rect width="41"/><circle class="k3"/><text>moon</text></g>
<g id="p2-lit1" transform="translate(2536.8,1093.87)"><rect width="33"/><circle class="k0"/><text>lit</text></g>
<g id="p2-silence1" transform="translate(2631.5,998.61)"><rect width="52"/><circle class="k3"/><text>silence</text></g>
<g id="p2-c2" transform="translate(2726.2,998.61)"><rect width="33"/><circle class="k0"/><text>,</text></g>
<g id="p2-gardens" transform="translate(2631.5,1042.58)"><rect width="52"/><circle class="k7"/><text>gardens</text></g>
<g id="p2-c3" transform="translate(2726.2,1042.58)"><rect width="33"/><circle class="k0"/><text>,</text></g>
<g id="p2-night1" transform="translate(2631.5,1115.85)"><rect width="41"/><circle class="k7"/><text>night</text></g>
<g id="p2-c4" transform="translate(2726.2,1115.85)"><rect width="33"/><circle class="k0"/><text>,</text></g>
<g id="p2-nights" transform="translate(2631.5,1189.13)"><rect width="47"/><circle class="k7"/><text>nights</text></g>
<g id="p2-c5" transform="translate(2726.2,1189.13)"><rect width="33"/><circle class="k0"/><text>,</text></g>
<g id="p2-the3" transform="translate(2442.1,1465.74)"><rect width="33"/><circle class="k4"/><text>the</text></g>
<g id="p2-silence2" transform="translate(2536.8,1324.68)"><rect width="52"/><circle class="k4"/><text>silence</text></g>
<g id="p2-c6" transform="translate(2631.5,1277.06)"><rect width="33"/><circle class="k0"/><text>,</text></g>
<g id="p2-stars3" transform="translate(2726.2,1247.75)"><rect width="41"/><circle class="k2"/><text>stars</text></g>
<g id="p2-a2" transform="translate(2726.2,1306.37)"><rect width="33"/><circle class="k7"/><text>a</text></g>
<g id="p2-of1" transform="translate(2631.5,1372.31)"><rect width="33"/><circle class="k7"/><text>of</text></g>
<g id="p2-the4" transform="translate(2726.2,1350.33)"><rect width="33"/><circle class="k0"/><text>the</text></g>
<g id="p2-a3" transform="translate(2726.2,1394.3)"><rect width="33"/><circle class="k7"/><text>a</text></g>
<g id="p2-still" transform="translate(2536.8,1452.92)"><rect width="36"/><circle class="k4"/><text>still</text></g>
<g id="p2-ness" transform="translate(2631.5,1452.92)"><rect width="36"/><circle class="k0"/><text>ness</text></g>
<g id="p2-of2" transform="translate(2726.2,1452.92)"><rect width="33"/><circle class="k0"/><text>of</text></g>
<g id="p2-moon3" transform="translate(2536.8,1606.79)"><rect width="41"/><circle class="k7"/><text>moon</text></g>
<g id="p2-s" transform="translate(2631.5,1570.16)"><rect width="33"/><circle class="k0"/><text>'s</text></g>
<g id="p2-soft" transform="translate(2726.2,1526.19)"><rect width="36"/><circle class="k4"/><text>soft</text></g>
<g id="p2-silver1" transform="translate(2726.2,1584.81)"><rect width="47"/><circle class="k4"/><text>silver</text></g>
<g id="p2-pale" transform="translate(2726.2,1614.12)"><rect width="36"/><circle class="k7"/><text>pale</text></g>
<g id="p2-lit2" transform="translate(2631.5,1643.43)"><rect width="33"/><circle class="k7"/><text>lit</text></g>
<g id="p2-night2" transform="translate(2726.2,1643.43)"><rect width="41"/><circle class="k0"/><text>night</text></g>
<g id="p2-l0" transform="translate(2820.9,90)"><rect width="33"/><circle class="k0"/><text>in</text></g>
<g id="p2-l1" transform="translate(2820.9,119.31)"><rect width="33"/><circle class="k0"/><text>in</text></g>
<g id="p2-l2" transform="translate(2820.9,148.62)"><rect width="33"/><circle class="k0"/><text>the</text></g>
<g id="p2-l3" transform="translate(2820.9,177.93)"><rect width="33"/><circle class="k2"/><text>a</text></g>
<g id="p2-l4" transform="translate(2820.9,207.24)"><rect width="56"/><circle class="k6"/><text>shadows</text></g>
<g id="p2-l5" transform="translate(2820.9,236.55)"><rect width="52"/><circle class="k0"/><text>secrets</text></g>
<g id="p2-l6" transform="translate(2820.9,265.86)"><rect width="54"/><circle class="k7"/><text>through</text></g>
<g id="p2-l7" transform="translate(2820.9,295.17)"><rect width="38"/><circle class="k0"/><text>upon</text></g>
<g id="p2-l8" transform="translate(2820.9,324.48)"><rect width="36"/><circle class="k7"/><text>with</text></g>
<g id="p2-l9" transform="translate(2820.9,353.79)"><rect width="47"/><circle class="k4"/><text>across</text></g>
<g id="p2-l10" transform="translate(2820.9,383.1)"><rect width="33"/><circle class="k7"/><text>on</text></g>
<g id="p2-l11" transform="translate(2820.9,412.41)"><rect width="38"/><circle class="k7"/><text>upon</text></g>
<g id="p2-l12" transform="translate(2820.9,441.72)"><rect width="33"/><circle class="k0"/><text>low</text></g>
<g id="p2-l13" transform="translate(2820.9,471.03)"><rect width="44"/><circle class="k0"/><text>dance</text></g>
<g id="p2-l14" transform="translate(2820.9,500.34)"><rect width="47"/><circle class="k0"/><text>gentle</text></g>
<g id="p2-l15" transform="translate(2820.9,529.65)"><rect width="33"/><circle class="k5"/><text>in</text></g>
<g id="p2-l16" transform="translate(2820.9,558.96)"><rect width="33"/><circle class="k5"/><text>,</text></g>
<g id="p2-l17" transform="translate(2820.9,588.27)"><rect width="33"/><circle class="k7"/><text>ll</text></g>
<g id="p2-l18" transform="translate(2820.9,617.58)"><rect width="33"/><circle class="k7"/><text>of</text></g>
<g id="p2-l19" transform="translate(2820.9,646.89)"><rect width="36"/><circle class="k0"/><text>like</text></g>
<g id="p2-l20" transform="translate(2820.9,676.2)"><rect width="33"/><circle class="k7"/><text>a</text></g>
<g id="p2-l21" transform="translate(2820.9,705.51)"><rect width="33"/><circle class="k0"/><text>a</text></g>
<g id="p2-l22" transform="translate(2820.9,734.82)"><rect width="33"/><circle class="k7"/><text>the</text></g>
<g id="p2-l23" transform="translate(2820.9,764.13)"><rect width="33"/><circle class="k0"/><text>the</text></g>
<g id="p2-l24" transform="translate(2820.9,793.44)"><rect width="33"/><circle class="k2"/><text>the</text></g>
<g id="p2-l25" transform="translate(2820.9,822.75)"><rect width="33"/><circle class="k5"/><text>a</text></g>
<g id="p2-l26" transform="translate(2820.9,852.06)"><rect width="41"/><circle class="k0"/><text>night</text></g>
<g id="p2-l27" transform="translate(2820.9,881.37)"><rect width="35"/><circle class="k0"/><text>dew</text></g>
<g id="p2-l28" transform="translate(2820.9,910.68)"><rect width="33"/><circle class="k0"/><text>the</text></g>
<g id="p2-l29" transform="translate(2820.9,939.99)"><rect width="33"/><circle class="k0"/><text>the</text></g>
<g id="p2-l30" transform="translate(2820.9,969.3)"><rect width="33"/><circle class="k0"/><text>in</text></g>
<g id="p2-l31" transform="translate(2820.9,998.61)"><rect width="41"/><circle class="k0"/><text>stars</text></g>
<g id="p2-l32" transform="translate(2820.9,1027.92)"><rect width="41"/><circle class="k2"/><text>stars</text></g>
<g id="p2-l33" transform="translate(2820.9,1057.23)"><rect width="56"/><circle class="k7"/><text>shadows</text></g>
<g id="p2-l34" transform="translate(2820.9,1086.54)"><rect width="41"/><circle class="k4"/><text>stars</text></g>
<g id="p2-l35" transform="translate(2820.9,1115.85)"><rect width="33"/><circle class="k5"/><text>a</text></g>
<g id="p2-l36" transform="translate(2820.9,1145.16)"><rect width="33"/><circle class="k6"/><text>the</text></g>
<g id="p2-l37" transform="translate(2820.9,1174.47)"><rect width="41"/><circle class="k2"/><text>stars</text></g>
<g id="p2-l38" transform="translate(2820.9,1203.78)"><rect width="33"/><circle class="k5"/><text>the</text></g>
<g id="p2-l39" transform="translate(2820.9,1233.09)"><rect width="41"/><circle class="k0"/><text>shine</text></g>
<g id="p2-l40" transform="translate(2820.9,1262.4)"><rect width="54"/><circle class="k7"/><text>whisper</text></g>
<g id="p2-l41" transform="translate(2820.9,1291.71)"><rect width="47"/><circle class="k0"/><text>single</text></g>
<g id="p2-l42" transform="translate(2820.9,1321.02)"><rect width="38"/><circle class="k7"/><text>lone</text></g>
<g id="p2-l43" transform="translate(2820.9,1350.33)"><rect width="41"/><circle class="k0"/><text>night</text></g>
<g id="p2-l44" transform="translate(2820.9,1379.64)"><rect width="41"/><circle class="k3"/><text>quiet</text></g>
<g id="p2-l45" transform="translate(2820.9,1408.95)"><rect width="44"/><circle class="k3"/><text>moon</text></g>
<g id="p2-l46" transform="translate(2820.9,1438.26)"><rect width="33"/><circle class="k1"/><text>the</text></g>
<g id="p2-l47" transform="translate(2820.9,1467.57)"><rect width="41"/><circle class="k7"/><text>night</text></g>
<g id="p2-l48" transform="translate(2820.9,1496.88)"><rect width="33"/><circle class="k2"/><text>,</text></g>
<g id="p2-l49" transform="translate(2820.9,1526.19)"><rect width="33"/><circle class="k5"/><text>gl</text></g>
<g id="p2-l50" transform="translate(2820.9,1555.5)"><rect width="47"/><circle class="k7"/><text>silver</text></g>
<g id="p2-l51" transform="translate(2820.9,1584.81)"><rect width="41"/><circle class="k0"/><text>light</text></g>
<g id="p2-l52" transform="translate(2820.9,1614.12)"><rect width="41"/><circle class="k0"/><text>light</text></g>
<g id="p2-l53" transform="translate(2820.9,1643.43)"><rect width="33"/><circle class="k0"/><text>.</text></g>
</g>

<g id="p3-nodes" class="n3">
<g id="p3-root" transform="translate(3372,849.9)"><rect width="21"/><circle class="k0"/><text>root</text></g>
<g id="p3-space" transform="translate(3407.6,849.9)"><rect width="19"/><circle class="k0"/><text></text></g>
<g id="p3-I" transform="translate(3443.1,849.9)"><rect width="19"/><circle class="k0"/><text>I</text></g>
<g id="p3-f0" transform="translate(3478.7,305.8)"><rect width="19"/><circle class="k7"/><text>am</text></g>
<g id="p3-f1" transform="translate(3478.7,779.5)"><rect width="19"/><circle class="k7"/><text>can</text></g>
<g id="p3-f2" transform="translate(3478.7,1394)"><rect width="21"/><circle class="k7"/><text>will</text></g>
<g id="p3-e0" transform="translate(3514.2,305.8)"><rect width="19"/><circle class="k0"/><text>not</text></g>
<g id="p3-e1" transform="translate(3514.2,489.4)"><rect width="21"/><circle class="k0"/><text>help</text></g>
<g id="p3-e2" transform="translate(3514.2,712)"><rect width="19"/><circle class="k7"/><text>see</text></g>
<g id="p3-e3" transform="translate(3514.2,1069.5)"><rect width="19"/><circle class="k7"/><text>do</text></g>
<g id="p3-e4" transform="translate(3514.2,1394)"><rect width="19"/><circle class="k0"/><text>be</text></g>
<g id="p3-d0" transform="translate(3549.8,236.5)"><rect width="21"/><circle class="k0"/><text>sure</text></g>
<g id="p3-d1" transform="translate(3549.8,375)"><rect width="21"/><circle class="k7"/><text>able</text></g>
<g id="p3-d2" transform="translate(3549.8,489.4)"><rect width="19"/><circle class="k0"/><text>you</text></g>
<g id="p3-d3" transform="translate(3549.8,609.1)"><rect width="21"/><circle class="k7"/><text>that</text></g>
<g id="p3-d4" transform="translate(3549.8,814.8)"><rect width="19"/><circle class="k0"/><text>it</text></g>
<g id="p3-d5" transform="translate(3549.8,993.8)"><rect width="19"/><circle class="k7"/><text>my</text></g>
<g id="p3-d6" transform="translate(3549.8,1145.2)"><rect width="21"/><circle class="k0"/><text>this</text></g>
<g id="p3-d7" transform="translate(3549.8,1394)"><rect width="24"/><circle class="k0"/><text>happy</text></g>
<g id="p3-c0" transform="translate(3585.3,236.5)"><rect width="19"/><circle class="k5"/><text>if</text></g>
<g id="p3-c1" transform="translate(3585.3,350)"><rect width="19"/><circle class="k0"/><text>to</text></g>
<g id="p3-c2" transform="translate(3585.3,399.9)"><rect width="19"/><circle class="k7"/><text>of</text></g>
<g id="p3-c3" transform="translate(3585.3,489.4)"><rect width="21"/><circle class="k0"/><text>with</text></g>
<g id="p3-c4" transform="translate(3585.3,560)"><rect width="19"/><circle class="k5"/><text>the</text></g>
<g id="p3-c5" transform="translate(3585.3,658.2)"><rect width="21"/><circle class="k7"/><text>what</text></g>
<g id="p3-c6" transform="translate(3585.3,814.8)"><rect width="19"/><circle class="k0"/><text>now</text></g>
<g id="p3-c7" transform="translate(3585.3,993.8)"><rect width="21"/><circle class="k5"/><text>best</text></g>
<g id="p3-c8" transform="translate(3585.3,1145.2)"><rect width="19"/><circle class="k5"/><text>for</text></g>
<g id="p3-c9" transform="translate(3585.3,1224.4)"><rect width="21"/><circle class="k7"/><text>here</text></g>
<g id="p3-c10" transform="translate(3585.3,1327.7)"><rect width="21"/><circle class="k7"/><text>glad</text></g>
<g id="p3-c11" transform="translate(3585.3,1410.3)"><rect width="19"/><circle class="k7"/><text>so</text></g>
<g id="p3-c12" transform="translate(3585.3,1563.5)"><rect width="24"/><circle class="k7"/><text>sorry</text></g>
<g id="p3-b0" transform="translate(3620.9,150.4)"><rect width="19"/><circle class="k5"/><text>to</text></g>
<g id="p3-b1" transform="translate(3620.9,236.4)"><rect width="19"/><circle class="k7"/><text>the</text></g>
<g id="p3-b2" transform="translate(3620.9,294.9)"><rect width="21"/><circle class="k5"/><text>some</text></g>
<g id="p3-b3" transform="translate(3620.9,322.5)"><rect width="19"/><circle class="k7"/><text>my</text></g>
<g id="p3-b4" transform="translate(3620.9,350)"><rect width="19"/><circle class="k0"/><text>in</text></g>
<g id="p3-b5" transform="translate(3620.9,381)"><rect width="19"/><circle class="k7"/><text>on</text></g>
<g id="p3-b6" transform="translate(3620.9,418.8)"><rect width="19"/><circle class="k7"/><text>at</text></g>
<g id="p3-b7" transform="translate(3620.9,456.7)"><rect width="19"/><circle class="k7"/><text>by</text></g>
<g id="p3-b8" transform="translate(3620.9,494.6)"><rect width="19"/><circle class="k5"/><text>any</text></g>
<g id="p3-b9" transform="translate(3620.9,508.3)"><rect width="19"/><circle class="k7"/><text>all</text></g>
<g id="p3-b10" transform="translate(3620.9,522.1)"><rect width="19"/><circle class="k7"/><text>one</text></g>
<g id="p3-b11" transform="translate(3620.9,560)"><rect width="21"/><circle class="k0"/><text>more</text></g>
<g id="p3-b12" transform="translate(3620.9,597.9)"><rect width="21"/><circle class="k7"/><text>your</text></g>
<g id="p3-b13" transform="translate(3620.9,649.5)"><rect width="19"/><circle class="k7"/><text>our</text></g>
<g id="p3-b14" transform="translate(3620.9,687.3)"><rect width="19"/><circle class="k5"/><text>how</text></g>
<g id="p3-b15" transform="translate(3620.9,718.4)"><rect width="19"/><circle class="k7"/><text>why</text></g>
<g id="p3-b16" transform="translate(3620.9,756.2)"><rect width="19"/><circle class="k7"/><text>as</text></g>
<g id="p3-b17" transform="translate(3620.9,814.7)"><rect width="19"/><circle class="k5"/><text>way</text></g>
<g id="p3-b18" transform="translate(3620.9,852.6)"><rect width="19"/><circle class="k0"/><text>who</text></g>
<g id="p3-b19" transform="translate(3620.9,873.3)"><rect width="19"/><circle class="k7"/><text>out</text></g>
<g id="p3-b20" transform="translate(3620.9,907.7)"><rect width="19"/><circle class="k0"/><text>new</text></g>
<g id="p3-b21" transform="translate(3620.9,1007.6)"><rect width="21"/><circle class="k7"/><text>good</text></g>
<g id="p3-b22" transform="translate(3620.9,1059.1)"><rect width="21"/><circle class="k7"/><text>idea</text></g>
<g id="p3-b23" transform="translate(3620.9,1079.8)"><rect width="21"/><circle class="k7"/><text>time</text></g>
<g id="p3-b24" transform="translate(3620.9,1145.2)"><rect width="21"/><circle class="k0"/><text>well</text></g>
<g id="p3-b25" transform="translate(3620.9,1224.4)"><rect width="24"/><circle class="k7"/><text>again</text></g>
<g id="p3-b26" transform="translate(3620.9,1296.7)"><rect width="21"/><circle class="k5"/><text>part</text></g>
<g id="p3-b27" transform="translate(3620.9,1358.7)"><rect width="21"/><circle class="k0"/><text>that</text></g>
<g id="p3-b28" transform="translate(3620.9,1410.3)"><rect width="21"/><circle class="k0"/><text>much</text></g>
<g id="p3-b29" transform="translate(3620.9,1513.6)"><rect width="24"/><circle class="k0"/><text>about</text></g>
<g id="p3-b30" transform="translate(3620.9,1613.4)"><rect width="21"/><circle class="k7"/><text>very</text></g>
<g id="p3-a0" transform="translate(3656.4,115.9)"><rect width="19"/><circle class="k0"/><text>is</text></g>
<g id="p3-a1" transform="translate(3656.4,150.3)"><rect width="19"/><circle class="k7"/><text>can</text></g>
<g id="p3-a2" transform="translate(3656.4,184.8)"><rect width="21"/><circle class="k5"/><text>will</text></g>
<g id="p3-a3" transform="translate(3656.4,205.4)"><rect width="19"/><circle class="k0"/><text>may</text></g>
<g id="p3-a4" transform="translate(3656.4,232.9)"><rect width="21"/><circle class="k7"/><text>have</text></g>
<g id="p3-a5" transform="translate(3656.4,267.4)"><rect width="19"/><circle class="k0"/><text>get</text></g>
<g id="p3-a6" transform="translate(3656.4,288)"><rect width="21"/><circle class="k7"/><text>find</text></g>
<g id="p3-a7" transform="translate(3656.4,301.8)"><rect width="21"/><circle class="k5"/><text>need</text></g>
<g id="p3-a8" transform="translate(3656.4,322.5)"><rect width="21"/><circle class="k0"/><text>want</text></g>
<g id="p3-a9" transform="translate(3656.4,350)"><rect width="21"/><circle class="k7"/><text>make</text></g>
<g id="p3-a10" transform="translate(3656.4,370.6)"><rect width="21"/><circle class="k0"/><text>give</text></g>
<g id="p3-a11" transform="translate(3656.4,391.3)"><rect width="19"/><circle class="k7"/><text>use</text></g>
<g id="p3-a12" transform="translate(3656.4,411.9)"><rect width="19"/><circle class="k5"/><text>is</text></g>
<g id="p3-a13" transform="translate(3656.4,425.7)"><rect width="19"/><circle class="k0"/><text>can</text></g>
<g id="p3-a14" transform="translate(3656.4,439.5)"><rect width="21"/><circle class="k7"/><text>will</text></g>
<g id="p3-a15" transform="translate(3656.4,453.3)"><rect width="19"/><circle class="k0"/><text>may</text></g>
<g id="p3-a16" transform="translate(3656.4,473.9)"><rect width="21"/><circle class="k7"/><text>have</text></g>
<g id="p3-a17" transform="translate(3656.4,494.6)"><rect width="19"/><circle class="k0"/><text>get</text></g>
<g id="p3-a18" transform="translate(3656.4,508.3)"><rect width="21"/><circle class="k7"/><text>find</text></g>
<g id="p3-a19" transform="translate(3656.4,522.1)"><rect width="21"/><circle class="k5"/><text>need</text></g>
<g id="p3-a20" transform="translate(3656.4,542.8)"><rect width="21"/><circle class="k0"/><text>want</text></g>
<g id="p3-a21" transform="translate(3656.4,563.4)"><rect width="21"/><circle class="k7"/><text>make</text></g>
<g id="p3-a22" transform="translate(3656.4,577.2)"><rect width="21"/><circle class="k0"/><text>give</text></g>
<g id="p3-a23" transform="translate(3656.4,597.9)"><rect width="19"/><circle class="k7"/><text>use</text></g>
<g id="p3-a24" transform="translate(3656.4,632.3)"><rect width="19"/><circle class="k5"/><text>is</text></g>
<g id="p3-a25" transform="translate(3656.4,666.7)"><rect width="19"/><circle class="k0"/><text>can</text></g>
<g id="p3-a26" transform="translate(3656.4,687.3)"><rect width="21"/><circle class="k7"/><text>will</text></g>
<g id="p3-a27" transform="translate(3656.4,708)"><rect width="19"/><circle class="k0"/><text>may</text></g>
<g id="p3-a28" transform="translate(3656.4,728.7)"><rect width="21"/><circle class="k7"/><text>have</text></g>
<g id="p3-a29" transform="translate(3656.4,756.2)"><rect width="19"/><circle class="k0"/><text>get</text></g>
<g id="p3-a30" transform="translate(3656.4,797.5)"><rect width="21"/><circle class="k7"/><text>find</text></g>
<g id="p3-a31" transform="translate(3656.4,831.9)"><rect width="21"/><circle class="k5"/><text>need</text></g>
<g id="p3-a32" transform="translate(3656.4,852.6)"><rect width="21"/><circle class="k0"/><text>want</text></g>
<g id="p3-a33" transform="translate(3656.4,873.3)"><rect width="21"/><circle class="k7"/><text>make</text></g>
<g id="p3-a34" transform="translate(3656.4,893.9)"><rect width="21"/><circle class="k0"/><text>give</text></g>
<g id="p3-a35" transform="translate(3656.4,921.4)"><rect width="19"/><circle class="k7"/><text>use</text></g>
<g id="p3-a36" transform="translate(3656.4,969.7)"><rect width="19"/><circle class="k5"/><text>is</text></g>
<g id="p3-a37" transform="translate(3656.4,1011)"><rect width="19"/><circle class="k0"/><text>can</text></g>
<g id="p3-a38" transform="translate(3656.4,1031.6)"><rect width="21"/><circle class="k7"/><text>will</text></g>
<g id="p3-a39" transform="translate(3656.4,1045.4)"><rect width="19"/><circle class="k0"/><text>may</text></g>
<g id="p3-a40" transform="translate(3656.4,1059.1)"><rect width="21"/><circle class="k7"/><text>have</text></g>
<g id="p3-a41" transform="translate(3656.4,1079.8)"><rect width="19"/><circle class="k0"/><text>get</text></g>
<g id="p3-a42" transform="translate(3656.4,1114.2)"><rect width="21"/><circle class="k7"/><text>find</text></g>
<g id="p3-a43" transform="translate(3656.4,1141.8)"><rect width="21"/><circle class="k5"/><text>need</text></g>
<g id="p3-a44" transform="translate(3656.4,1155.5)"><rect width="21"/><circle class="k0"/><text>want</text></g>
<g id="p3-a45" transform="translate(3656.4,1176.2)"><rect width="21"/><circle class="k7"/><text>make</text></g>
<g id="p3-a46" transform="translate(3656.4,1224.4)"><rect width="21"/><circle class="k0"/><text>give</text></g>
<g id="p3-a47" transform="translate(3656.4,1265.7)"><rect width="19"/><circle class="k7"/><text>use</text></g>
<g id="p3-a48" transform="translate(3656.4,1293.2)"><rect width="19"/><circle class="k5"/><text>is</text></g>
<g id="p3-a49" transform="translate(3656.4,1327.7)"><rect width="19"/><circle class="k0"/><text>can</text></g>
<g id="p3-a50" transform="translate(3656.4,1348.3)"><rect width="21"/><circle class="k7"/><text>will</text></g>
<g id="p3-a51" transform="translate(3656.4,1369)"><rect width="19"/><circle class="k0"/><text>may</text></g>
<g id="p3-a52" transform="translate(3656.4,1396.5)"><rect width="21"/><circle class="k7"/><text>have</text></g>
<g id="p3-a53" transform="translate(3656.4,1424.1)"><rect width="19"/><circle class="k0"/><text>get</text></g>
<g id="p3-a54" transform="translate(3656.4,1465.4)"><rect width="21"/><circle class="k7"/><text>find</text></g>
<g id="p3-a55" transform="translate(3656.4,1506.7)"><rect width="21"/><circle class="k5"/><text>need</text></g>
<g id="p3-a56" transform="translate(3656.4,1534.2)"><rect width="21"/><circle class="k0"/><text>want</text></g>
<g id="p3-a57" transform="translate(3656.4,1561.8)"><rect width="21"/><circle class="k7"/><text>make</text></g>
<g id="p3-a58" transform="translate(3656.4,1596.2)"><rect width="21"/><circle class="k0"/><text>give</text></g>
<g id="p3-a59" transform="translate(3656.4,1630.6)"><rect width="19"/><circle class="k7"/><text>use</text></g>
<g id="p3-l0" transform="translate(3692,109)"><rect width="19"/><circle class="k5"/><text>you</text></g>
<g id="p3-l1" transform="translate(3692,122.8)"><rect width="21"/><circle class="k7"/><text>help</text></g>
<g id="p3-l2" transform="translate(3692,136.5)"><rect width="19"/><circle class="k6"/><text>the</text></g>
<g id="p3-l3" transform="translate(3692,150.3)"><rect width="19"/><circle class="k0"/><text>me</text></g>
<g id="p3-l4" transform="translate(3692,164.1)"><rect width="19"/><circle class="k7"/><text>it</text></g>
<g id="p3-l5" transform="translate(3692,177.9)"><rect width="19"/><circle class="k5"/><text>to</text></g>
<g id="p3-l6" transform="translate(3692,191.6)"><rect width="21"/><circle class="k5"/><text>with</text></g>
<g id="p3-l7" transform="translate(3692,205.4)"><rect width="19"/><circle class="k7"/><text>a</text></g>
<g id="p3-l8" transform="translate(3692,219.2)"><rect width="21"/><circle class="k6"/><text>that</text></g>
<g id="p3-l9" transform="translate(3692,232.9)"><rect width="19"/><circle class="k0"/><text>and</text></g>
<g id="p3-l10" transform="translate(3692,246.7)"><rect width="21"/><circle class="k7"/><text>this</text></g>
<g id="p3-l11" transform="translate(3692,260.5)"><rect width="21"/><circle class="k5"/><text>more</text></g>
<g id="p3-l12" transform="translate(3692,274.2)"><rect width="24"/><circle class="k5"/><text>about</text></g>
<g id="p3-l13" transform="translate(3692,288)"><rect width="19"/><circle class="k7"/><text>any</text></g>
<g id="p3-l14" transform="translate(3692,301.8)"><rect width="21"/><circle class="k6"/><text>your</text></g>
<g id="p3-l15" transform="translate(3692,315.6)"><rect width="19"/><circle class="k0"/><text>now</text></g>
<g id="p3-l16" transform="translate(3692,329.3)"><rect width="21"/><circle class="k7"/><text>here</text></g>
<g id="p3-l17" transform="translate(3692,343.1)"><rect width="21"/><circle class="k5"/><text>what</text></g>
<g id="p3-l18" transform="translate(3692,356.9)"><rect width="21"/><circle class="k5"/><text>know</text></g>
<g id="p3-l19" transform="translate(3692,370.6)"><rect width="19"/><circle class="k7"/><text>be</text></g>
<g id="p3-l20" transform="translate(3692,384.4)"><rect width="19"/><circle class="k6"/><text>do</text></g>
<g id="p3-l21" transform="translate(3692,398.2)"><rect width="19"/><circle class="k0"/><text>is</text></g>
<g id="p3-l22" transform="translate(3692,411.9)"><rect width="19"/><circle class="k7"/><text>so</text></g>
<g id="p3-l23" transform="translate(3692,425.7)"><rect width="19"/><circle class="k5"/><text>for</text></g>
<g id="p3-l24" transform="translate(3692,439.5)"><rect width="19"/><circle class="k5"/><text>you</text></g>
<g id="p3-l25" transform="translate(3692,453.3)"><rect width="21"/><circle class="k7"/><text>help</text></g>
<g id="p3-l26" transform="translate(3692,467)"><rect width="19"/><circle class="k6"/><text>the</text></g>
<g id="p3-l27" transform="translate(3692,480.8)"><rect width="19"/><circle class="k0"/><text>me</text></g>
<g id="p3-l28" transform="translate(3692,494.6)"><rect width="19"/><circle class="k7"/><text>it</text></g>
<g id="p3-l29" transform="translate(3692,508.3)"><rect width="19"/><circle class="k5"/><text>to</text></g>
<g id="p3-l30" transform="translate(3692,522.1)"><rect width="21"/><circle class="k5"/><text>with</text></g>
<g id="p3-l31" transform="translate(3692,535.9)"><rect width="19"/><circle class="k7"/><text>a</text></g>
<g id="p3-l32" transform="translate(3692,549.6)"><rect width="21"/><circle class="k6"/><text>that</text></g>
<g id="p3-l33" transform="translate(3692,563.4)"><rect width="19"/><circle class="k0"/><text>and</text></g>
<g id="p3-l34" transform="translate(3692,577.2)"><rect width="21"/><circle class="k7"/><text>this</text></g>
<g id="p3-l35" transform="translate(3692,591)"><rect width="21"/><circle class="k5"/><text>more</text></g>
<g id="p3-l36" transform="translate(3692,604.7)"><rect width="24"/><circle class="k5"/><text>about</text></g>
<g id="p3-l37" transform="translate(3692,618.5)"><rect width="19"/><circle class="k7"/><text>any</text></g>
<g id="p3-l38" transform="translate(3692,632.3)"><rect width="21"/><circle class="k6"/><text>your</text></g>
<g id="p3-l39" transform="translate(3692,646)"><rect width="19"/><circle class="k0"/><text>now</text></g>
<g id="p3-l40" transform="translate(3692,659.8)"><rect width="21"/><circle class="k7"/><text>here</text></g>
<g id="p3-l41" transform="translate(3692,673.6)"><rect width="21"/><circle class="k5"/><text>what</text></g>
<g id="p3-l42" transform="translate(3692,687.3)"><rect width="21"/><circle class="k5"/><text>know</text></g>
<g id="p3-l43" transform="translate(3692,701.1)"><rect width="19"/><circle class="k7"/><text>be</text></g>
<g id="p3-l44" transform="translate(3692,714.9)"><rect width="19"/><circle class="k6"/><text>do</text></g>
<g id="p3-l45" transform="translate(3692,728.7)"><rect width="19"/><circle class="k0"/><text>is</text></g>
<g id="p3-l46" transform="translate(3692,742.4)"><rect width="19"/><circle class="k7"/><text>so</text></g>
<g id="p3-l47" transform="translate(3692,756.2)"><rect width="19"/><circle class="k5"/><text>for</text></g>
<g id="p3-l48" transform="translate(3692,770)"><rect width="19"/><circle class="k5"/><text>you</text></g>
<g id="p3-l49" transform="translate(3692,783.7)"><rect width="21"/><circle class="k7"/><text>help</text></g>
<g id="p3-l50" transform="translate(3692,797.5)"><rect width="19"/><circle class="k6"/><text>the</text></g>
<g id="p3-l51" transform="translate(3692,811.3)"><rect width="19"/><circle class="k0"/><text>me</text></g>
<g id="p3-l52" transform="translate(3692,825)"><rect width="19"/><circle class="k7"/><text>it</text></g>
<g id="p3-l53" transform="translate(3692,838.8)"><rect width="19"/><circle class="k5"/><text>to</text></g>
<g id="p3-l54" transform="translate(3692,852.6)"><rect width="21"/><circle class="k5"/><text>with</text></g>
<g id="p3-l55" transform="translate(3692,866.4)"><rect width="19"/><circle class="k7"/><text>a</text></g>
<g id="p3-l56" transform="translate(3692,880.1)"><rect width="21"/><circle class="k6"/><text>that</text></g>
<g id="p3-l57" transform="translate(3692,893.9)"><rect width="19"/><circle class="k0"/><text>and</text></g>
<g id="p3-l58" transform="translate(3692,907.7)"><rect width="21"/><circle class="k7"/><text>this</text></g>
<g id="p3-l59" transform="translate(3692,921.4)"><rect width="21"/><circle class="k5"/><text>more</text></g>
<g id="p3-l60" transform="translate(3692,935.2)"><rect width="24"/><circle class="k5"/><text>about</text></g>
<g id="p3-l61" transform="translate(3692,949)"><rect width="19"/><circle class="k7"/><text>any</text></g>
<g id="p3-l62" transform="translate(3692,962.7)"><rect width="21"/><circle class="k6"/><text>your</text></g>
<g id="p3-l63" transform="translate(3692,976.5)"><rect width="19"/><circle class="k0"/><text>now</text></g>
<g id="p3-l64" transform="translate(3692,990.3)"><rect width="21"/><circle class="k7"/><text>here</text></g>
<g id="p3-l65" transform="translate(3692,1004.1)"><rect width="21"/><circle class="k5"/><text>what</text></g>
<g id="p3-l66" transform="translate(3692,1017.8)"><rect width="21"/><circle class="k5"/><text>know</text></g>
<g id="p3-l67" transform="translate(3692,1031.6)"><rect width="19"/><circle class="k7"/><text>be</text></g>
<g id="p3-l68" transform="translate(3692,1045.4)"><rect width="19"/><circle class="k6"/><text>do</text></g>
<g id="p3-l69" transform="translate(3692,1059.1)"><rect width="19"/><circle class="k0"/><text>is</text></g>
<g id="p3-l70" transform="translate(3692,1072.9)"><rect width="19"/><circle class="k7"/><text>so</text></g>
<g id="p3-l71" transform="translate(3692,1086.7)"><rect width="19"/><circle class="k5"/><text>for</text></g>
<g id="p3-l72" transform="translate(3692,1100.4)"><rect width="19"/><circle class="k5"/><text>you</text></g>
<g id="p3-l73" transform="translate(3692,1114.2)"><rect width="21"/><circle class="k7"/><text>help</text></g>
<g id="p3-l74" transform="translate(3692,1128)"><rect width="19"/><circle class="k6"/><text>the</text></g>
<g id="p3-l75" transform="translate(3692,1141.8)"><rect width="19"/><circle class="k0"/><text>me</text></g>
<g id="p3-l76" transform="translate(3692,1155.5)"><rect width="19"/><circle class="k7"/><text>it</text></g>
<g id="p3-l77" transform="translate(3692,1169.3)"><rect width="19"/><circle class="k5"/><text>to</text></g>
<g id="p3-l78" transform="translate(3692,1183.1)"><rect width="21"/><circle class="k5"/><text>with</text></g>
<g id="p3-l79" transform="translate(3692,1196.8)"><rect width="19"/><circle class="k7"/><text>a</text></g>
<g id="p3-l80" transform="translate(3692,1210.6)"><rect width="21"/><circle class="k6"/><text>that</text></g>
<g id="p3-l81" transform="translate(3692,1224.4)"><rect width="19"/><circle class="k0"/><text>and</text></g>
<g id="p3-l82" transform="translate(3692,1238.1)"><rect width="21"/><circle class="k7"/><text>this</text></g>
<g id="p3-l83" transform="translate(3692,1251.9)"><rect width="21"/><circle class="k5"/><text>more</text></g>
<g id="p3-l84" transform="translate(3692,1265.7)"><rect width="24"/><circle class="k5"/><text>about</text></g>
<g id="p3-l85" transform="translate(3692,1279.5)"><rect width="19"/><circle class="k7"/><text>any</text></g>
<g id="p3-l86" transform="translate(3692,1293.2)"><rect width="21"/><circle class="k6"/><text>your</text></g>
<g id="p3-l87" transform="translate(3692,1307)"><rect width="19"/><circle class="k0"/><text>now</text></g>
<g id="p3-l88" transform="translate(3692,1320.8)"><rect width="21"/><circle class="k7"/><text>here</text></g>
<g id="p3-l89" transform="translate(3692,1334.5)"><rect width="21"/><circle class="k5"/><text>what</text></g>
<g id="p3-l90" transform="translate(3692,1348.3)"><rect width="21"/><circle class="k5"/><text>know</text></g>
<g id="p3-l91" transform="translate(3692,1362.1)"><rect width="19"/><circle class="k7"/><text>be</text></g>
<g id="p3-l92" transform="translate(3692,1375.8)"><rect width="19"/><circle class="k6"/><text>do</text></g>
<g id="p3-l93" transform="translate(3692,1389.6)"><rect width="19"/><circle class="k0"/><text>is</text></g>
<g id="p3-l94" transform="translate(3692,1403.4)"><rect width="19"/><circle class="k7"/><text>so</text></g>
<g id="p3-l95" transform="translate(3692,1417.2)"><rect width="19"/><circle class="k5"/><text>for</text></g>
<g id="p3-l96" transform="translate(3692,1430.9)"><rect width="19"/><circle class="k5"/><text>you</text></g>
<g id="p3-l97" transform="translate(3692,1444.7)"><rect width="21"/><circle class="k7"/><text>help</text></g>
<g id="p3-l98" transform="translate(3692,1458.5)"><rect width="19"/><circle class="k6"/><text>the</text></g>
<g id="p3-l99" transform="translate(3692,1472.2)"><rect width="19"/><circle class="k0"/><text>me</text></g>
<g id="p3-l100" transform="translate(3692,1486)"><rect width="19"/><circle class="k7"/><text>it</text></g>
<g id="p3-l101" transform="translate(3692,1499.8)"><rect width="19"/><circle class="k5"/><text>to</text></g>
<g id="p3-l102" transform="translate(3692,1513.5)"><rect width="21"/><circle class="k5"/><text>with</text></g>
<g id="p3-l103" transform="translate(3692,1527.3)"><rect width="19"/><circle class="k7"/><text>a</text></g>
<g id="p3-l104" transform="translate(3692,1541.1)"><rect width="21"/><circle class="k6"/><text>that</text></g>
<g id="p3-l105" transform="translate(3692,1554.9)"><rect width="19"/><circle class="k0"/><text>and</text></g>
<g id="p3-l106" transform="translate(3692,1568.6)"><rect width="21"/><circle class="k7"/><text>this</text></g>
<g id="p3-l107" transform="translate(3692,1582.4)"><rect width="21"/><circle class="k5"/><text>more</text></g>
<g id="p3-l108" transform="translate(3692,1596.2)"><rect width="24"/><circle class="k5"/><text>about</text></g>
<g id="p3-l109" transform="translate(3692,1609.9)"><rect width="19"/><circle class="k7"/><text>any</text></g>
<g id="p3-l110" transform="translate(3692,1623.7)"><rect width="21"/><circle class="k6"/><text>your</text></g>
<g id="p3-l111" transform="translate(3692,1637.5)"><rect width="19"/><circle class="k0"/><text>now</text></g>
</g>
</svg>
